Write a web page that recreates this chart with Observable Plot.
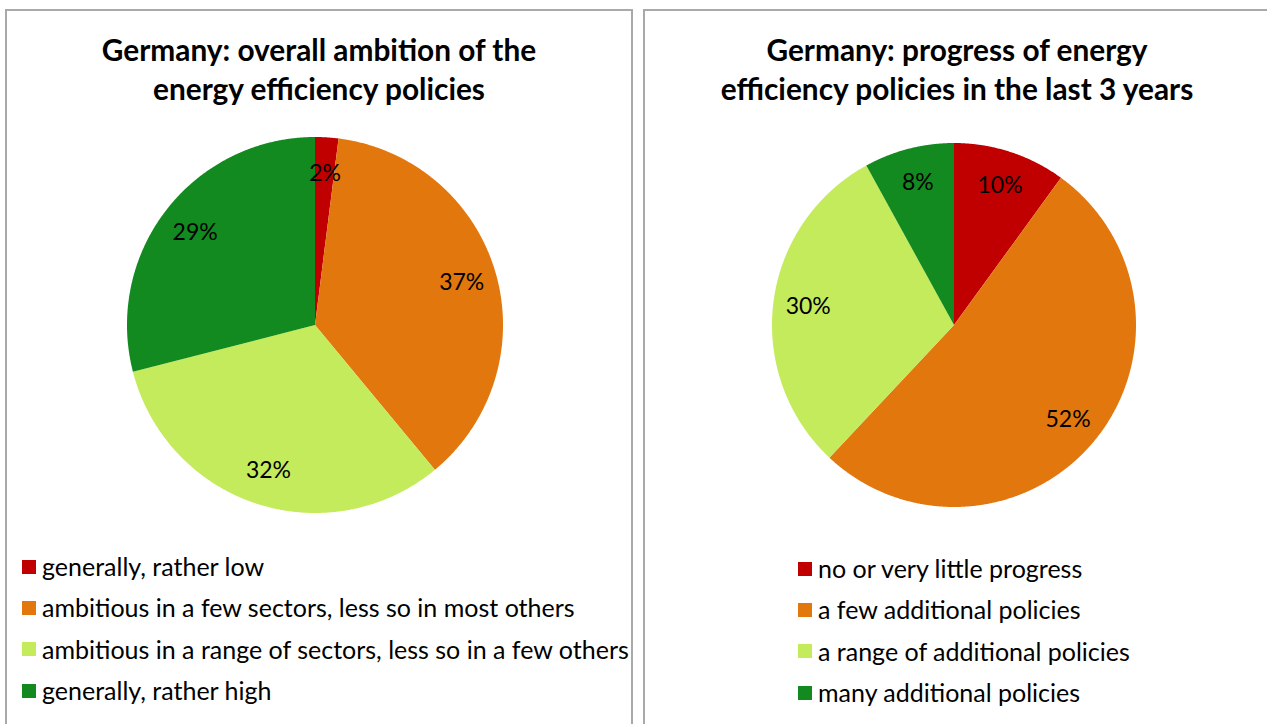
<!DOCTYPE html>
<html>
<head>
<meta charset="utf-8">
<script src="https://cdn.jsdelivr.net/npm/d3@7"></script>
<script src="https://cdn.jsdelivr.net/npm/@observablehq/plot@0.6"></script>
<style>
  body { margin: 0; background: #fff; }
  #root { position: relative; width: 1267px; height: 724px; overflow: hidden; background: #fff; font-family: Lato, "Open Sans", sans-serif; color: #000; }
  .panel { position: absolute; top: 9px; height: 740px; border: 2px solid #a9a9a9; box-sizing: border-box; }
  .title { position: absolute; text-align: center; font-weight: bold; font-size: 29.8px; line-height: 39px; }
  .legend { position: absolute; font-size: 25px; line-height: 41.3px; white-space: nowrap; }
  .legend .row { display: flex; align-items: center; }
  .legend .sw { width: 14px; height: 14px; margin-right: 6px; flex: none; }
  .pie { position: absolute; }
</style>
</head>
<body>
<div id="root"></div>
<script>
// ---- data ----
const leftTitle = ["Germany: overall ambition of the", "energy efficiency policies"];
const leftCategories = [
  "generally, rather low",
  "ambitious in a few sectors, less so in most others",
  "ambitious in a range of sectors, less so in a few others",
  "generally, rather high"
];
const leftValues = [2, 37, 32, 29];

const rightTitle = ["Germany: progress of energy", "efficiency policies in the last 3 years"];
const rightCategories = [
  "no or very little progress",
  "a few additional policies",
  "a range of additional policies",
  "many additional policies"
];
const rightValues = [10, 52, 30, 8];

const sliceColors = ["#C00000", "#E2770E", "#C4EB5C", "#128A1F"];

// ---- helpers ----
function pieRows(values, categories) {
  const arcs = d3.pie().sort(null).value(d => d)(values);
  const rows = [];
  const labels = [];
  arcs.forEach((a, i) => {
    const n = Math.max(2, Math.ceil((a.endAngle - a.startAngle) / 0.005));
    for (let k = 0; k <= n; k++) {
      const t = a.startAngle + (a.endAngle - a.startAngle) * k / n;
      rows.push({cat: categories[i], x: Math.sin(t), y: Math.cos(t)});
    }
    const m = (a.startAngle + a.endAngle) / 2;
    labels.push({cat: categories[i], x: 0.81 * Math.sin(m), y: 0.81 * Math.cos(m), text: values[i] + "%"});
  });
  return {rows, labels};
}

function drawPie(values, categories, size) {
  const {rows, labels} = pieRows(values, categories);
  return Plot.plot({
    width: size, height: size, margin: 2,
    x: {domain: [-1, 1], axis: null},
    y: {domain: [-1, 1], axis: null},
    color: {domain: categories, range: sliceColors},
    style: {fontFamily: "Lato, 'Open Sans', sans-serif", background: "transparent", overflow: "visible"},
    marks: [
      Plot.area(rows, {x1: "x", y1: "y", x2: () => 0, y2: () => 0, z: "cat", fill: "cat", curve: "linear"}),
      Plot.text(labels, {x: "x", y: "y", text: "text", fontSize: 23, fill: "#000"})
    ]
  });
}

function addPanel(root, cfg) {
  const p = document.createElement("div");
  p.className = "panel";
  p.style.left = cfg.panelLeft + "px";
  p.style.width = cfg.panelWidth + "px";
  root.appendChild(p);

  const t = document.createElement("div");
  t.className = "title";
  t.style.left = cfg.panelLeft + "px";
  t.style.width = cfg.panelWidth + "px";
  t.style.top = cfg.titleTop + "px";
  t.innerHTML = cfg.title.join("<br>");
  root.appendChild(t);

  const pie = drawPie(cfg.values, cfg.categories, cfg.size);
  const pw = document.createElement("div");
  pw.className = "pie";
  pw.style.left = (cfg.cx - cfg.size / 2) + "px";
  pw.style.top = (cfg.cy - cfg.size / 2) + "px";
  pw.appendChild(pie);
  root.appendChild(pw);

  const lg = document.createElement("div");
  lg.className = "legend";
  lg.style.left = cfg.legendLeft + "px";
  lg.style.top = cfg.legendTop + "px";
  cfg.categories.forEach((c, i) => {
    const r = document.createElement("div");
    r.className = "row";
    const s = document.createElement("span");
    s.className = "sw";
    s.style.background = sliceColors[i];
    const tx = document.createElement("span");
    tx.textContent = c;
    r.appendChild(s); r.appendChild(tx);
    lg.appendChild(r);
  });
  root.appendChild(lg);
}

const root = document.getElementById("root");
addPanel(root, {
  panelLeft: 5, panelWidth: 628, titleTop: 30, title: leftTitle,
  values: leftValues, categories: leftCategories,
  cx: 315, cy: 325, size: 380,
  legendLeft: 22, legendTop: 546
});
addPanel(root, {
  panelLeft: 643, panelWidth: 628, titleTop: 30, title: rightTitle,
  values: rightValues, categories: rightCategories,
  cx: 954, cy: 325, size: 368,
  legendLeft: 798, legendTop: 548
});
</script>
</body>
</html>
